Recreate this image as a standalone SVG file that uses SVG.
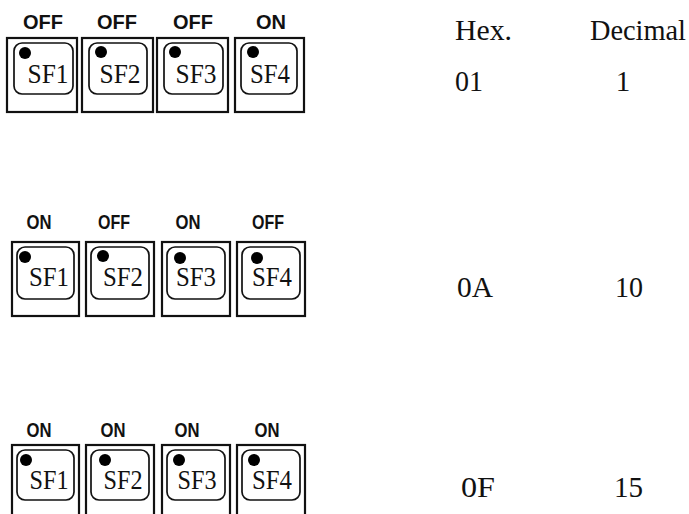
<svg xmlns="http://www.w3.org/2000/svg" width="689" height="514" viewBox="0 0 689 514">
<style>
.outer{fill:#fff;stroke:#111;stroke-width:2.2}
.inner{fill:none;stroke:#111;stroke-width:1.7}
.dot{fill:#000}
.sf{font-family:"Liberation Serif",serif;font-size:27px;fill:#111;text-anchor:middle}
.lab1{font-family:"Liberation Sans",Arial,sans-serif;font-size:20px;font-weight:bold;fill:#111;text-anchor:middle}
.lab2{font-family:"Liberation Sans",Arial,sans-serif;font-size:20px;font-weight:bold;fill:#111;text-anchor:middle}
.val{font-family:"Liberation Serif",serif;font-size:29px;fill:#111}
.valm{font-family:"Liberation Serif",serif;font-size:29px;fill:#111;text-anchor:middle}
</style>
<rect width="689" height="514" fill="#fff"/>

<!-- Row 1 -->
<g id="row1">
  <g id="r1-sf1">
    <text class="lab1" x="43" y="29">OFF</text>
    <rect class="outer" x="7" y="38" width="70" height="74"/>
    <rect class="inner" x="14" y="43" width="59" height="51" rx="8"/>
    <circle class="dot" cx="25" cy="53" r="6"/>
    <text class="sf" x="48" y="83" textLength="41" lengthAdjust="spacingAndGlyphs">SF1</text>
  </g>
  <g id="r1-sf2">
    <text class="lab1" x="117" y="29">OFF</text>
    <rect class="outer" x="82" y="38" width="71" height="74"/>
    <rect class="inner" x="89" y="43" width="58" height="51" rx="8"/>
    <circle class="dot" cx="101" cy="52" r="6"/>
    <text class="sf" x="120" y="83" textLength="41" lengthAdjust="spacingAndGlyphs">SF2</text>
  </g>
  <g id="r1-sf3">
    <text class="lab1" x="193" y="29">OFF</text>
    <rect class="outer" x="157" y="38" width="71" height="74"/>
    <rect class="inner" x="164" y="43" width="59" height="51" rx="8"/>
    <circle class="dot" cx="175" cy="52" r="6"/>
    <text class="sf" x="196" y="83" textLength="41" lengthAdjust="spacingAndGlyphs">SF3</text>
  </g>
  <g id="r1-sf4">
    <text class="lab1" x="271" y="29">ON</text>
    <rect class="outer" x="235" y="38" width="69" height="74"/>
    <rect class="inner" x="241" y="43" width="56" height="51" rx="8"/>
    <circle class="dot" cx="253" cy="52" r="6"/>
    <text class="sf" x="270" y="83" textLength="40" lengthAdjust="spacingAndGlyphs">SF4</text>
  </g>
</g>

<!-- Row 2 -->
<g id="row2">
  <g id="r2-sf1">
    <text class="lab2" x="39" y="229" textLength="25" lengthAdjust="spacingAndGlyphs">ON</text>
    <rect class="outer" x="12" y="242" width="67" height="74"/>
    <rect class="inner" x="17" y="247" width="57" height="52" rx="8"/>
    <circle class="dot" cx="25" cy="257" r="6"/>
    <text class="sf" x="49" y="286" textLength="40" lengthAdjust="spacingAndGlyphs">SF1</text>
  </g>
  <g id="r2-sf2">
    <text class="lab2" x="114" y="229" textLength="32" lengthAdjust="spacingAndGlyphs">OFF</text>
    <rect class="outer" x="86" y="242" width="68" height="74"/>
    <rect class="inner" x="91" y="247" width="58" height="52" rx="8"/>
    <circle class="dot" cx="103" cy="256" r="6"/>
    <text class="sf" x="123" y="286" textLength="40" lengthAdjust="spacingAndGlyphs">SF2</text>
  </g>
  <g id="r2-sf3">
    <text class="lab2" x="188" y="229" textLength="25" lengthAdjust="spacingAndGlyphs">ON</text>
    <rect class="outer" x="162" y="242" width="68" height="74"/>
    <rect class="inner" x="167" y="247" width="58" height="52" rx="8"/>
    <circle class="dot" cx="180" cy="258" r="6"/>
    <text class="sf" x="196" y="286" textLength="40" lengthAdjust="spacingAndGlyphs">SF3</text>
  </g>
  <g id="r2-sf4">
    <text class="lab2" x="268" y="229" textLength="32" lengthAdjust="spacingAndGlyphs">OFF</text>
    <rect class="outer" x="237" y="242" width="68" height="74"/>
    <rect class="inner" x="242" y="247" width="58" height="52" rx="8"/>
    <circle class="dot" cx="257" cy="258" r="6"/>
    <text class="sf" x="272" y="286" textLength="40" lengthAdjust="spacingAndGlyphs">SF4</text>
  </g>
</g>

<!-- Row 3 -->
<g id="row3">
  <g id="r3-sf1">
    <text class="lab2" x="39" y="437" textLength="25" lengthAdjust="spacingAndGlyphs">ON</text>
    <rect class="outer" x="12" y="445" width="67" height="74"/>
    <rect class="inner" x="17" y="450" width="57" height="50" rx="8"/>
    <circle class="dot" cx="26" cy="460" r="6"/>
    <text class="sf" x="49" y="489" textLength="39" lengthAdjust="spacingAndGlyphs">SF1</text>
  </g>
  <g id="r3-sf2">
    <text class="lab2" x="113" y="437" textLength="25" lengthAdjust="spacingAndGlyphs">ON</text>
    <rect class="outer" x="86" y="445" width="68" height="74"/>
    <rect class="inner" x="91" y="450" width="58" height="50" rx="8"/>
    <circle class="dot" cx="105" cy="460" r="6"/>
    <text class="sf" x="123" y="489" textLength="39" lengthAdjust="spacingAndGlyphs">SF2</text>
  </g>
  <g id="r3-sf3">
    <text class="lab2" x="187" y="437" textLength="25" lengthAdjust="spacingAndGlyphs">ON</text>
    <rect class="outer" x="162" y="445" width="68" height="74"/>
    <rect class="inner" x="167" y="450" width="58" height="50" rx="8"/>
    <circle class="dot" cx="179" cy="460" r="6"/>
    <text class="sf" x="197" y="489" textLength="39" lengthAdjust="spacingAndGlyphs">SF3</text>
  </g>
  <g id="r3-sf4">
    <text class="lab2" x="267" y="437" textLength="25" lengthAdjust="spacingAndGlyphs">ON</text>
    <rect class="outer" x="237" y="445" width="68" height="74"/>
    <rect class="inner" x="242" y="450" width="58" height="50" rx="8"/>
    <circle class="dot" cx="254" cy="460" r="6"/>
    <text class="sf" x="272" y="489" textLength="40" lengthAdjust="spacingAndGlyphs">SF4</text>
  </g>
</g>

<!-- Table -->
<g id="table">
  <text class="val" x="455" y="40" textLength="57" lengthAdjust="spacingAndGlyphs">Hex.</text>
  <text class="val" x="590" y="40" textLength="96" lengthAdjust="spacingAndGlyphs">Decimal</text>
  <text class="val" x="455" y="91" textLength="28" lengthAdjust="spacingAndGlyphs">01</text>
  <text class="valm" x="623" y="91">1</text>
  <text class="val" x="457" y="297" textLength="36" lengthAdjust="spacingAndGlyphs">0A</text>
  <text class="val" x="615" y="297" textLength="28" lengthAdjust="spacingAndGlyphs">10</text>
  <text class="val" x="461" y="497" textLength="34" lengthAdjust="spacingAndGlyphs">0F</text>
  <text class="val" x="614" y="497" textLength="29" lengthAdjust="spacingAndGlyphs">15</text>
</g>
</svg>
